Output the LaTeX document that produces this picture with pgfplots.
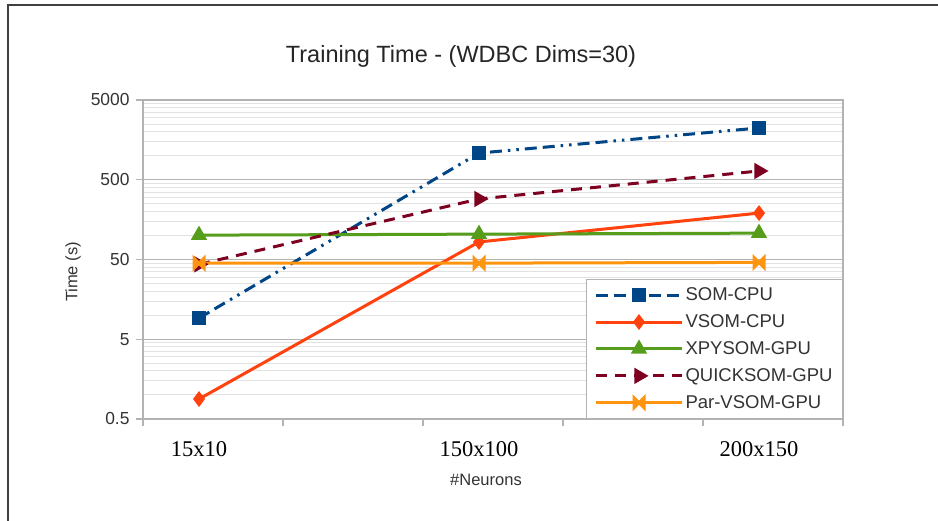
\documentclass[border=0pt]{standalone}
\usepackage{fontspec}
\setmainfont{Liberation Sans}
\newfontfamily\seriffont{Liberation Serif}
\usepackage{pgfplots}
\pgfplotsset{compat=1.18}
\definecolor{somblue}{HTML}{004586}
\definecolor{vsomred}{HTML}{FF420E}
\definecolor{xpygreen}{HTML}{579D1C}
\definecolor{quickred}{HTML}{7E0021}
\definecolor{parorange}{HTML}{FF950E}
\definecolor{axgray}{HTML}{B3B3B3}
\definecolor{minorgray}{HTML}{E2E2E2}
\definecolor{txt}{HTML}{333333}
\pgfdeclareplotmark{bowtie}{%
 \pgfpathmoveto{\pgfqpoint{-\pgfplotmarksize}{\pgfplotmarksize}}%
 \pgfpathlineto{\pgfqpoint{0pt}{0pt}}%
 \pgfpathlineto{\pgfqpoint{-\pgfplotmarksize}{-\pgfplotmarksize}}%
 \pgfpathclose
 \pgfpathmoveto{\pgfqpoint{\pgfplotmarksize}{\pgfplotmarksize}}%
 \pgfpathlineto{\pgfqpoint{0pt}{0pt}}%
 \pgfpathlineto{\pgfqpoint{\pgfplotmarksize}{-\pgfplotmarksize}}%
 \pgfpathclose
 \pgfusepathqfillstroke}
\begin{document}
\begin{tikzpicture}
\useasboundingbox (0,0) rectangle (938pt,521pt);
\fill[white] (0,0) rectangle (938pt,521pt);
% outer frame (top and left)
\draw[line width=2pt, black!75] (8pt,0) -- (8pt,516pt) -- (938pt,516pt);
\begin{axis}[
  at={(143pt,102pt)}, anchor=south west,
  width=700pt, height=319pt, scale only axis,
  xmin=0, xmax=5, ymode=log, ymin=0.5, ymax=5000,
  axis line style={axgray, line width=1.2pt},
  xtick={0,1,2,3,4,5}, xticklabels={},
  extra x ticks={0.4,2.4,4.4},
  extra x tick labels={15x10,150x100,200x150},
  extra x tick style={major tick length=0pt, grid=none,
     tick label style={font=\seriffont\fontsize{22.5}{26}\selectfont, text=black, yshift=-19pt}},
  ytick={0.5,5,50,500,5000},
  yticklabels={0.5,5,50,500,5000},
  minor ytick={1,1.5,2,2.5,3,3.5,4,4.5,10,15,20,25,30,35,40,45,100,150,200,250,300,350,400,450,1000,1500,2000,2500,3000,3500,4000,4500},
  tick align=outside, major tick length=7pt, minor tick length=0pt,
  tick style={axgray, line width=1.2pt},
  xtick pos=bottom, ytick pos=left,
  ymajorgrids, yminorgrids,
  major grid style={axgray, line width=1.2pt},
  minor grid style={minorgray, line width=1pt},
  yticklabel style={font=\fontsize{17.4}{20}\selectfont, text=txt, xshift=-3pt},
  /pgf/number format/assume math mode=true,
  legend style={at={(1,0)}, anchor=south east, draw=axgray, line width=1pt,
     font=\fontsize{18.5}{21}\selectfont, text=txt, inner xsep=8pt, inner ysep=6.5pt,
     row sep=8.5pt, cells={anchor=west}},
  legend image code/.code={\draw[mark repeat=2,mark phase=2] plot coordinates {(0pt,0pt)(43pt,0pt)(86pt,0pt)};},
  legend cell align=left,
  clip=false,
]
\addplot[somblue, line width=3pt, dash pattern=on 12pt off 6pt on 12pt off 6pt on 2.5pt off 6pt on 2.5pt off 6pt, mark=square*, mark size=5.5pt, mark options={solid}]
  coordinates {(0.4,9.2) (2.4,1080) (4.4,2230)};
\addlegendentry{SOM-CPU}
\addplot[vsomred, line width=3pt, mark=diamond*, mark size=5.5pt, mark options={solid}]
  coordinates {(0.4,0.89) (2.4,83) (4.4,191)};
\addlegendentry{VSOM-CPU}
\addplot[xpygreen, line width=3pt, mark=triangle*, mark size=6.5pt, mark options={solid}]
  coordinates {(0.4,101) (2.4,104) (4.4,107)};
\addlegendentry{XPYSOM-GPU}
\addplot[quickred, line width=3pt, dash pattern=on 11pt off 8pt, mark=triangle*, mark size=6.5pt, mark options={solid, rotate=-90}]
  coordinates {(0.4,43.5) (2.4,287) (4.4,644)};
\addlegendentry{QUICKSOM-GPU}
\addplot[parorange, line width=3pt, mark=bowtie, mark size=5pt, mark options={solid}]
  coordinates {(0.4,45) (2.4,45) (4.4,46)};
\addlegendentry{Par-VSOM-GPU}
\end{axis}
\node[font=\fontsize{23.5}{28}\selectfont, text=black!85] at (461pt,465pt) {Training Time - (WDBC Dims=30)};
\node[font=\fontsize{16.5}{20}\selectfont, text=txt] at (486pt,41pt) {\#Neurons};
\node[font=\fontsize{16.5}{20}\selectfont, text=txt, rotate=90] at (73pt,249pt) {Time (s)};
\end{tikzpicture}
\end{document}
